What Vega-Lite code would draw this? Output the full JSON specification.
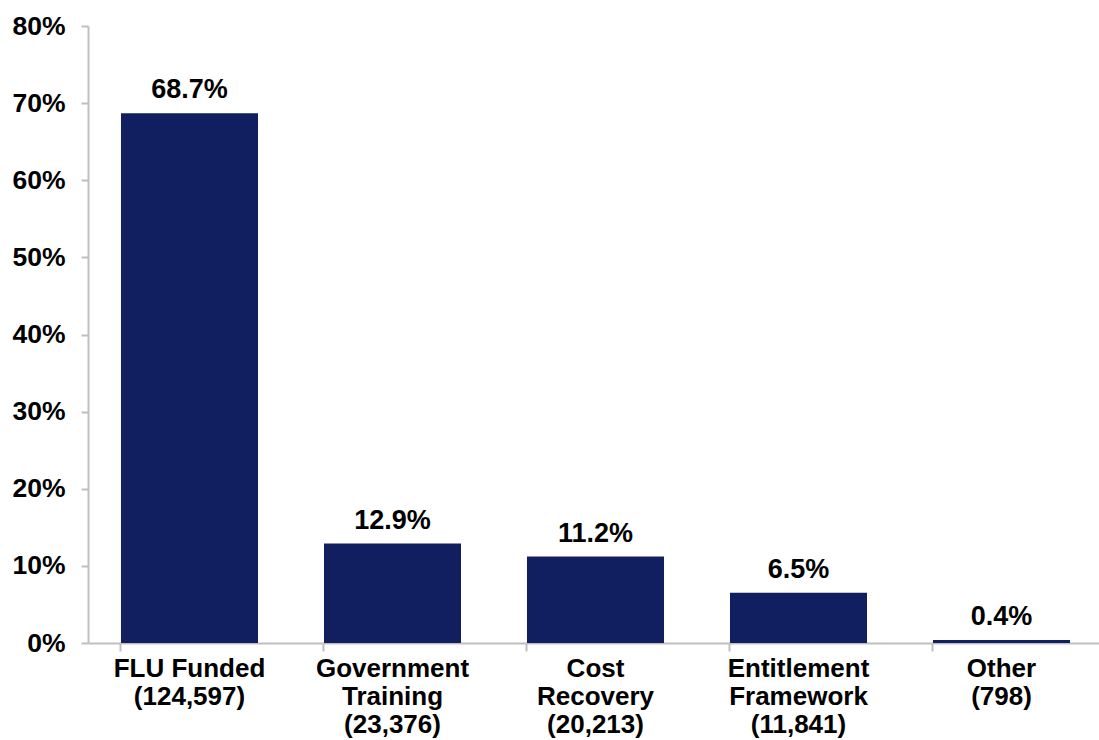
{
  "$schema": "https://vega.github.io/schema/vega-lite/v6.json",
  "autosize": {"type": "none"},
  "width": 1015,
  "height": 617,
  "padding": {"left": 88, "top": 26, "right": 0, "bottom": 97},
  "background": "white",
  "config": {"view": {"stroke": null}, "font": "Liberation Sans"},
  "data": {"values": [
    {"category": "FLU Funded|(124,597)", "share": 0.687},
    {"category": "Government|Training|(23,376)", "share": 0.129},
    {"category": "Cost|Recovery|(20,213)", "share": 0.112},
    {"category": "Entitlement|Framework|(11,841)", "share": 0.065},
    {"category": "Other|(798)", "share": 0.004}
  ]},
  "encoding": {
    "x": {"field": "category", "type": "nominal", "sort": null,
      "scale": {"paddingInner": 0.325, "paddingOuter": 0.1625},
      "axis": {"title": null, "labelAngle": 0, "labelExpr": "split(datum.label, '|')",
        "labelFont": "Liberation Sans", "labelFontWeight": "bold", "labelFontSize": 26, "labelColor": "black",
        "labelLineHeight": 28, "labelPadding": 4, "labelBaseline": "top",
        "domainColor": "#BFBFBF", "domainWidth": 2, "tickColor": "#BFBFBF", "tickWidth": 2, "tickSize": 8,
        "bandPosition": 0}},
    "y": {"field": "share", "type": "quantitative",
      "scale": {"domain": [0, 0.8]},
      "axis": {"title": null, "format": ".0%", "values": [0, 0.1, 0.2, 0.3, 0.4, 0.5, 0.6, 0.7, 0.8],
        "grid": false, "labelFont": "Liberation Sans", "labelFontWeight": "bold", "labelFontSize": 26.5, "labelColor": "black",
        "labelPadding": 16, "domainColor": "#BFBFBF", "domainWidth": 2, "tickColor": "#BFBFBF", "tickWidth": 2, "tickSize": 7}}
  },
  "layer": [
    {"mark": {"type": "bar", "color": "#111F60"}},
    {"mark": {"type": "text", "baseline": "bottom", "dy": -9, "font": "Liberation Sans", "fontWeight": "bold", "fontSize": 27, "color": "black"},
      "encoding": {"text": {"field": "share", "type": "quantitative", "format": ".1%"}}}
  ]
}
